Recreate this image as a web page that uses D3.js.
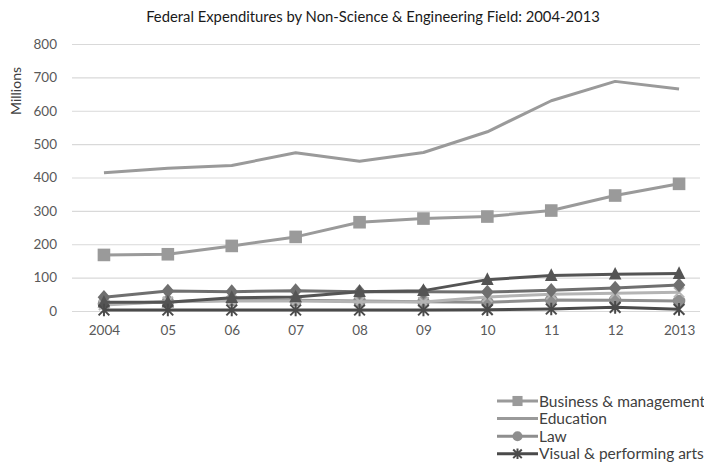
<!DOCTYPE html>
<html>
<head>
<meta charset="utf-8">
<script src="https://cdn.jsdelivr.net/npm/d3@7"></script>
<style>
  html, body { margin: 0; padding: 0; background: #fff; }
  svg { display: block; font-family: Lato, "Open Sans", sans-serif; }
</style>
</head>
<body>
<svg id="chart" width="704" height="465"></svg>
<script>
// Federal obligations for non-S&E fields, millions of dollars
const years = ["2004", "05", "06", "07", "08", "09", "10", "11", "12", "2013"];
const yTicks = [0, 100, 200, 300, 400, 500, 600, 700, 800];

const business   = [168, 170, 195, 222, 266, 277, 283, 301, 346, 381];
const education  = [414, 428, 436, 474, 449, 475, 537, 630, 688, 665];
const law        = [22, 28, 32, 32, 30, 28, 26, 33, 32, 30];
const visualArts = [3, 3, 3, 3, 3, 3, 4, 6, 11, 5];
const humanities = [41, 60, 58, 61, 58, 58, 57, 62, 69, 78];
const otherField = [26, 26, 40, 42, 58, 61, 94, 106, 110, 112];
const socialWork = [18, 28, 30, 30, 28, 27, 42, 50, 53, 56];

const legendNames = ["Business & management", "Education", "Law", "Visual & performing arts"];

const series = [
  { name: "Business & management",    values: business,   color: "#9a9a9a", marker: "square" },
  { name: "Education",                values: education,  color: "#9a9a9a", marker: "none" },
  { name: "Law",                      values: law,        color: "#8e8e8e", marker: "circle" },
  { name: "Social work",              values: socialWork, color: "#b4b4b4", marker: "cross" },
  { name: "Humanities",               values: humanities, color: "#6f6f6f", marker: "diamond" },
  { name: "Other non-S&E fields",     values: otherField, color: "#545454", marker: "triangle" },
  { name: "Visual & performing arts", values: visualArts, color: "#4a4a4a", marker: "asterisk" }
];

const svg = d3.select("#chart");
const plot = { left: 72, right: 700, top: 44, bottom: 311 };

const x = d3.scalePoint().domain(years).range([plot.left, 711]).padding(0.5);
const y = d3.scaleLinear().domain([0, 800]).range([plot.bottom, plot.top]);

// Title
svg.append("text")
  .attr("x", 373).attr("y", 22)
  .attr("text-anchor", "middle")
  .attr("font-size", 14.8).attr("fill", "#1a1a1a")
  .text("Federal Expenditures by Non-Science & Engineering Field: 2004-2013");

// Horizontal gridlines and value labels
const yAxis = d3.axisLeft(y).tickValues(yTicks)
  .tickSize(-(plot.right - plot.left)).tickPadding(15);
const gy = svg.append("g").attr("transform", `translate(${plot.left},0)`).call(yAxis);
gy.select(".domain").remove();
gy.selectAll(".tick line").attr("stroke", "#d9d9d9").attr("stroke-width", 1.2);
gy.selectAll(".tick text").attr("fill", "#595959").attr("font-size", 13.5)
  .attr("font-family", "Lato, 'Open Sans', sans-serif");

// Category labels
const xAxis = d3.axisBottom(x).tickSize(0).tickPadding(14);
const gx = svg.append("g").attr("transform", `translate(0,${plot.bottom})`).call(xAxis);
gx.select(".domain").remove();
gx.selectAll(".tick text").attr("fill", "#595959").attr("font-size", 13.5)
  .attr("font-family", "Lato, 'Open Sans', sans-serif");

// Axis title
svg.append("text")
  .attr("transform", "translate(21,91) rotate(-90)")
  .attr("text-anchor", "middle")
  .attr("font-size", 14).attr("fill", "#404040")
  .text("Millions");

const line = d3.line().x((d, i) => x(years[i])).y(d => y(d));

function drawMarker(g, type, color, cx, cy, scale = 1) {
  const s = 6.3 * scale;
  if (type === "square") {
    g.append("rect").attr("x", cx - s).attr("y", cy - s)
      .attr("width", 2 * s).attr("height", 2 * s).attr("fill", color);
  } else if (type === "circle") {
    g.append("circle").attr("cx", cx).attr("cy", cy).attr("r", s).attr("fill", color);
  } else if (type === "diamond") {
    g.append("path").attr("d", `M${cx},${cy - s - 1}L${cx + s},${cy}L${cx},${cy + s + 1}L${cx - s},${cy}Z`)
      .attr("fill", color);
  } else if (type === "triangle") {
    g.append("path").attr("d", `M${cx},${cy - s - 1}L${cx + s},${cy + s - 1}L${cx - s},${cy + s - 1}Z`)
      .attr("fill", color);
  } else if (type === "cross") {
    const r = s * 0.8;
    g.append("path").attr("d", `M${cx - r},${cy - r}L${cx + r},${cy + r}M${cx + r},${cy - r}L${cx - r},${cy + r}`)
      .attr("stroke", color).attr("stroke-width", 2);
  } else if (type === "asterisk") {
    const r = s * 0.85;
    g.append("path")
      .attr("d", `M${cx - r},${cy - r}L${cx + r},${cy + r}M${cx + r},${cy - r}L${cx - r},${cy + r}M${cx},${cy - r - 1}L${cx},${cy + r + 1}`)
      .attr("stroke", color).attr("stroke-width", 2);
  }
}

// Series lines and markers
series.forEach(s => {
  const g = svg.append("g");
  g.append("path").datum(s.values)
    .attr("d", line)
    .attr("fill", "none").attr("stroke", s.color)
    .attr("stroke-width", 3).attr("stroke-linejoin", "round");
  s.values.forEach((v, i) => drawMarker(g, s.marker, s.color, x(years[i]), y(v)));
});

// Legend
const legend = svg.append("g");
legendNames.forEach((name, i) => {
  const s = series.find(d => d.name === name);
  const ly = 401 + i * 17.6;
  const row = legend.append("g");
  row.append("line").attr("x1", 497).attr("x2", 538).attr("y1", ly).attr("y2", ly)
    .attr("stroke", s.color).attr("stroke-width", 3);
  drawMarker(row, s.marker, s.color, 517.5, ly, 0.8);
  row.append("text").attr("x", 539).attr("y", ly + 5.5)
    .attr("font-size", 15.5).attr("fill", "#404040").text(name);
});
</script>
</body>
</html>
